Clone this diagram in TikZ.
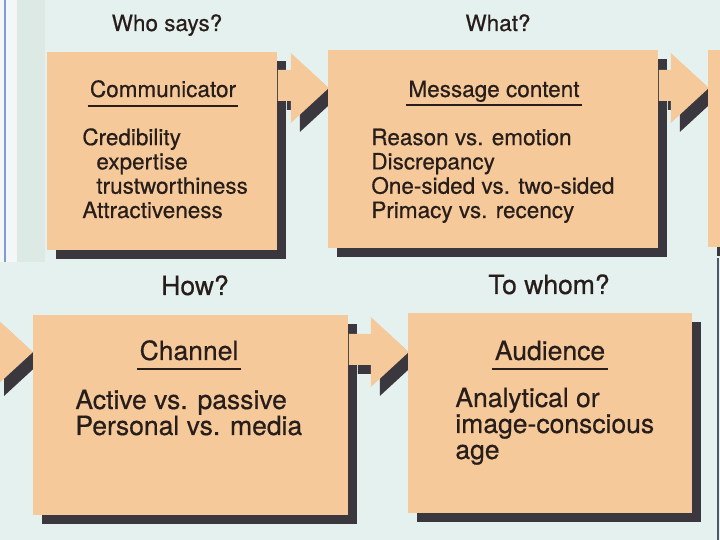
\documentclass[tikz,border=0pt]{standalone}
\usepackage{fontspec}
\setmainfont{TeX Gyre Heros}[FakeBold=0.5]
\usetikzlibrary{positioning, shadows}
\definecolor{bgmint}{HTML}{E4F1EE}
\definecolor{peach}{HTML}{F5C99A}
\definecolor{shadowgrey}{HTML}{3A383E}
\definecolor{inkbrown}{HTML}{271D1A}
\definecolor{margblue}{HTML}{7E9CCF}
\definecolor{margwhite}{HTML}{F3F7F8}
\definecolor{marggrey}{HTML}{DDE9E5}

\begin{document}
\begin{tikzpicture}[
  x=0.5pt, y=-0.5pt,
  text=inkbrown,
  shadowed/.style={drop shadow={shadow xshift=4.5pt, shadow yshift=-4.5pt,
                   fill=shadowgrey, opacity=1}},
  card/.style={rectangle, fill=peach, shadowed, inner sep=0pt,
               anchor=north west},
  pointer/.style={fill=peach, shadowed},
  head/.style={anchor=base, inner sep=0pt},
  ttl/.style={anchor=base, inner xsep=1pt, inner ysep=0pt},
  body/.style={anchor=base west, align=left, inner sep=0pt},
  rule/.style={line width=1.1pt, inkbrown},
  toprow/.style={font=\fontsize{11.25}{12.15}\selectfont},
  botrow/.style={font=\fontsize{13.25}{13}\selectfont}
]
\fill[bgmint] (0,0) rectangle (720,540);
\clip (0,0) rectangle (720,540);
% scanned margin
\fill[margwhite] (0,0) rectangle (17,262);
\fill[marggrey] (17,0) rectangle (45,262);
\draw[margblue, line width=0.9pt] (5,0) -- (5,262);
\draw[shadowgrey!70!margblue, line width=0.6pt] (718,258) -- (718,540);

% top row
\node (whosays) [head, toprow] at (167,31) {Who says?};
\node (what) [head, toprow] at (498,31) {What?};

\node (comm) [card, minimum width=115pt, minimum height=99pt] at (47,52) {};
\fill[pointer] ([shift={(0,18)}]comm.north east) -- ++(13,0) -- ++(0,-17)
  -- ++(38,35) -- ++(-38,35) -- ++(0,-22) -- ++(-13,0) -- cycle;
\node (msg) [card, minimum width=165pt, minimum height=99pt] at (328,50) {};
\fill[pointer] ([shift={(0,20)}]msg.north east) -- ++(12,0) -- ++(0,-17)
  -- ++(38,35) -- ++(-38,35) -- ++(0,-22) -- ++(-12,0) -- cycle;
\node (nxt) [card, minimum width=20pt, minimum height=98.5pt] at (708,50) {};

\node (commt) [ttl, toprow] at (163,97) {Communicator};
\draw[rule] ([shift={(0,9)}]commt.base west) -- ([shift={(0,9)}]commt.base east);
\node (commb) [body, toprow] at (82,218)
  {Credibility\\\hspace*{7pt}expertise\\\hspace*{7pt}trustworthiness\\Attractiveness};

\node (msgt) [ttl, toprow] at (494,97) {Message content};
\draw[rule] ([shift={(0,8)}]msgt.base west) -- ([shift={(0,8)}]msgt.base east);
\node (msgb) [body, toprow] at (371,218)
  {Reason vs. emotion\\Discrepancy\\One-sided vs. two-sided\\Primacy vs. recency};

% bottom row
\node (how) [head, botrow] at (195,295) {How?};
\node (towhom) [head, botrow] at (549,294) {To whom?};

\fill[pointer] (33,352) -- ++(-38,-35) -- ++(0,17)
  -- ++(-15,0) -- ++(0,31) -- ++(15,0) -- ++(0,22) -- cycle;
\node (chan) [card, minimum width=157.5pt, minimum height=100pt] at (33,315) {};
\fill[pointer] ([shift={(0,19)}]chan.north east) -- ++(22,0) -- ++(0,-17)
  -- ++(38,35) -- ++(-38,35) -- ++(0,-22) -- ++(-22,0) -- cycle;
\node (aud) [card, minimum width=142pt, minimum height=100pt] at (408,313) {};

\node (chant) [ttl, botrow] at (189,360) {Channel};
\draw[rule] ([shift={(0,9)}]chant.base west) -- ([shift={(0,9)}]chant.base east);
\node (chanb) [body, botrow] at (75,435)
  {Active vs. passive\\Personal vs. media};

\node (audt) [ttl, botrow] at (550,360) {Audience};
\draw[rule] ([shift={(0,9)}]audt.base west) -- ([shift={(0,9)}]audt.base east);
\node (audb) [body, botrow] at (455,459)
  {Analytical or\\image-conscious\\age};
\end{tikzpicture}
\end{document}
